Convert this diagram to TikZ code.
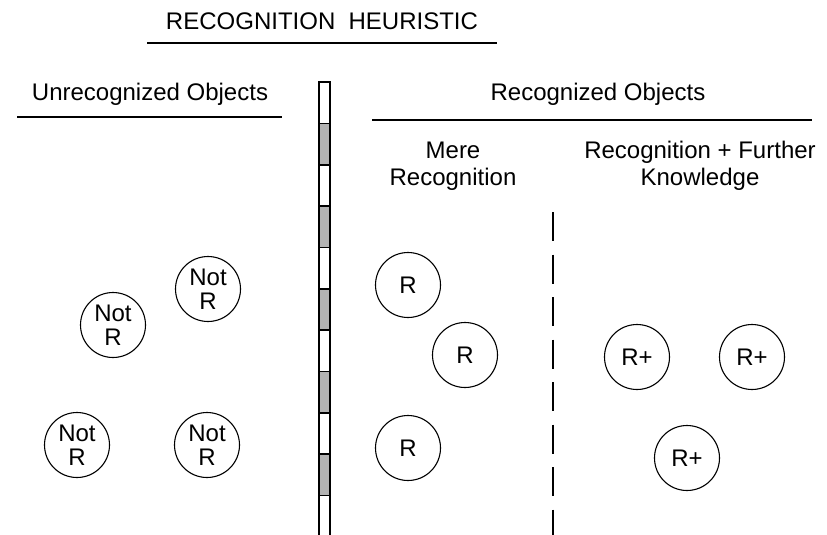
\documentclass[tikz,border=0pt]{standalone}
\usepackage{fontspec}
\setmainfont{Liberation Sans}
\usepackage{tikz}

\begin{document}
\begin{tikzpicture} [x = 1pt, y = -1pt,
    head/.style = {font = \fontsize{24}{27}\selectfont, align = center, inner sep = 0},
    obj/.style = {circle, draw, line width = 1.1pt, minimum size = 65pt, inner sep = 0,
        align = center, font = \fontsize{24}{24}\selectfont},
    rule/.style = {line width = 1.1pt}]
    \useasboundingbox (0, 0) rectangle (827, 535);

    % headings
    \node[head] (title) at (322, 21) {RECOGNITION\ \ HEURISTIC};
    \draw[rule] (147, 43) -- (497, 43);
    \node[head] (unrec) at (150, 94) {Unrecognized Objects};
    \draw[rule] (17, 117) -- (282, 117);
    \node[head] (rec) at (598, 94) {Recognized Objects};
    \draw[rule] (372, 120) -- (812, 120);
    \node[head] (mere) at (453, 166) {Mere\\Recognition};
    \node[head] (further) at (700, 166) {Recognition + Further\\Knowledge};

    % divider bar
    \draw[line width = 1.1pt] (319, 535) -- (319, 82) -- (330, 82) -- (330, 535);
    \foreach \i in {0,...,4}
        \draw[line width = 1.6pt, fill = black!30] (319, 123.5 + 82.6*\i) rectangle (330, 165 + 82.6*\i);

    % dashed divider
    \coordinate (dtop) at (553, 212);
    \coordinate (dbot) at (553, 535);
    \draw[line width = 1.1pt, dash pattern = on 29pt off 13.5pt] (dtop) -- (dbot);

    % objects
    \node[obj] (nr1) at (208, 289) {Not\\R};
    \node[obj] (nr2) at (113, 325) {Not\\R};
    \node[obj] (nr3) at (77, 445) {Not\\R};
    \node[obj] (nr4) at (207, 445) {Not\\R};
    \node[obj] (r1) at (408, 285) {R};
    \node[obj] (r2) at (465, 355) {R};
    \node[obj] (r3) at (408, 448) {R};
    \node[obj] (rp1) at (637, 357) {R+};
    \node[obj] (rp2) at (752, 357) {R+};
    \node[obj] (rp3) at (687, 458) {R+};
\end{tikzpicture}
\end{document}
